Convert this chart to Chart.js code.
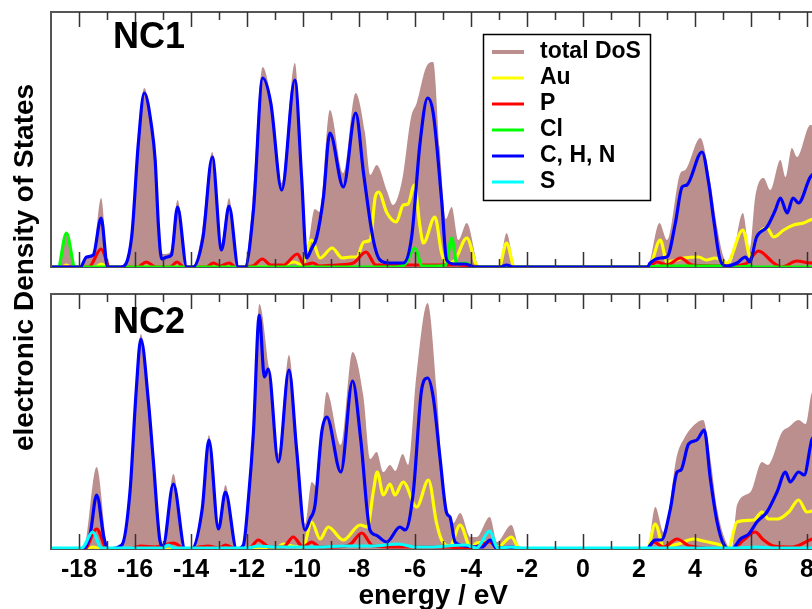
<!DOCTYPE html>
<html>
<head>
<meta charset="utf-8">
<script src="https://cdn.jsdelivr.net/npm/chart.js@4"></script>
<style>
html, body { margin: 0; padding: 0; background: #fff; overflow: hidden; width: 812px; height: 609px; }
canvas { position: absolute; left: 0; top: 0; }
</style>
</head>
<body>
<canvas id="nc1" width="820" height="609"></canvas>
<canvas id="nc2" width="820" height="609"></canvas>
<script>
// energy axis
const xMin = -19, xMax = 8.3;
const tickVals = [-18, -16, -14, -12, -10, -8, -6, -4, -2, 0, 2, 4, 6, 8];
const minorTickVals = [-17, -15, -13, -11, -9, -7, -5, -3, -1, 1, 3, 5, 7];

const seriesNames = ['total DoS', 'Au', 'P', 'Cl', 'C, H, N', 'S'];
const seriesColors = ['#bc8f8f', '#ffff00', '#ff0000', '#00ff00', '#0000ff', '#00ffff'];

// ---- NC1 (energy, DoS in arbitrary units) ----
const nc1Total = [[-19,0],[-18.72,0],[-18.45,34],[-18.14,0],[-17.92,0],[-17.72,10],[-17.5,13],[-17.21,69],[-16.95,0],[-16.52,0],[-16.12,34],[-15.88,130],[-15.67,179],[-15.4,141],[-15.27,110],[-15.12,22],[-14.96,13],[-14.74,15],[-14.48,67],[-14.15,0],[-13.95,0],[-13.6,36],[-13.24,115],[-12.92,24],[-12.64,69],[-12.32,0],[-12.1,0],[-11.8,65],[-11.44,200],[-11.15,169],[-10.76,84],[-10.29,204],[-10.05,98],[-9.88,16],[-9.58,58],[-9.4,55],[-9.04,157],[-8.56,94],[-8.12,174],[-7.79,135],[-7.6,92],[-7.37,102],[-7.0,76],[-6.79,62],[-6.46,87],[-6.14,150],[-5.94,164],[-5.6,200],[-5.35,205],[-5.12,120],[-4.9,48],[-4.69,60],[-4.45,27],[-4.15,44],[-3.7,0],[-3.0,0],[-2.73,34],[-2.42,0],[2.3,0],[2.73,44],[3.0,27],[3.48,94],[3.65,97],[4.19,129],[4.55,84],[4.79,40],[5.02,10],[5.26,4],[5.71,54],[5.95,17],[6.15,70],[6.45,89],[6.69,77],[7.05,107],[7.23,90],[7.46,119],[7.64,110],[8.12,142],[8.5,140]];
const nc1Au = [[-19,0],[-18.6,0],[-18.45,2],[-18.3,0],[-17.4,0],[-17.2,3],[-17.0,0],[-10.9,0],[-10.6,3],[-10.3,5],[-10.05,2],[-9.69,27],[-9.39,9],[-8.96,19],[-8.6,9],[-8.3,10],[-8.08,10],[-7.83,25],[-7.6,27],[-7.42,70],[-7.3,75],[-7.0,54],[-6.67,45],[-6.42,62],[-6.25,63],[-6.02,82],[-5.82,40],[-5.7,24],[-5.29,50],[-5.05,14],[-4.87,4],[-4.6,6],[-4.15,29],[-3.75,0],[-3.0,0],[-2.73,24],[-2.45,0],[2.35,0],[2.76,27],[3.0,5],[3.6,9],[4.13,10],[4.4,7],[4.73,9],[5.14,4],[5.71,37],[5.98,10],[6.2,30],[6.57,39],[6.81,30],[7.17,37],[7.52,42],[7.88,44],[8.12,47],[8.5,50]];
const nc1P = [[-19,0],[-17.65,0],[-17.21,18],[-16.9,0],[-15.9,0],[-15.6,5],[-15.25,0],[-14.75,0],[-14.5,5],[-14.25,0],[-13.45,0],[-13.2,4],[-12.95,1],[-12.64,4],[-12.4,0],[-11.8,1],[-11.45,8],[-11.15,2],[-10.7,2],[-10.2,13],[-9.95,2],[-9.65,4],[-9.4,1],[-8.8,2],[-8.2,4],[-7.75,15],[-7.4,2],[-6.5,2],[-5.5,2],[-4.5,2],[-4.0,1],[-3.6,0],[2.3,0],[2.64,5],[3.0,2],[3.48,9],[3.9,2],[5.2,1],[5.8,3],[6.27,16],[6.81,4],[7.1,0],[7.64,6],[8.12,4],[8.5,5]];
const nc1Cl = [[-19,0],[-18.75,0],[-18.45,34],[-18.14,0],[-6.7,0],[-6.35,3],[-6.0,19],[-5.75,1],[-5.2,1],[-4.9,2],[-4.69,29],[-4.5,3],[-4.2,4],[-3.9,0],[2.3,0],[2.8,1],[5.0,1],[5.5,0],[5.95,1],[6.15,0],[8.5,0]];
const nc1CHN = [[-19,0],[-17.95,0],[-17.73,10],[-17.49,12],[-17.21,49],[-16.98,0],[-16.5,0],[-16.12,30],[-15.88,124],[-15.67,174],[-15.4,139],[-15.28,107],[-15.16,40],[-15.05,8],[-14.85,10],[-14.7,12],[-14.48,60],[-14.15,0],[-13.93,0],[-13.57,30],[-13.24,110],[-12.91,17],[-12.64,61],[-12.31,0],[-12.07,0],[-11.77,57],[-11.44,189],[-11.15,164],[-10.76,77],[-10.29,187],[-10.05,90],[-9.87,9],[-9.7,18],[-9.51,30],[-9.27,70],[-9.04,134],[-8.56,80],[-8.12,154],[-7.83,92],[-7.49,27],[-7.25,7],[-6.9,4],[-6.42,4],[-6.12,30],[-5.82,124],[-5.55,169],[-5.35,154],[-5.05,67],[-4.87,7],[-4.6,3],[-4.2,3],[-3.88,0],[-2.95,0],[-2.73,2],[-2.5,0],[2.3,0],[2.4,4],[2.76,9],[3.0,10],[3.3,44],[3.54,80],[3.71,82],[4.25,115],[4.49,84],[4.67,47],[4.9,7],[5.14,1],[5.5,4],[5.8,10],[5.95,5],[6.2,30],[6.57,40],[6.87,57],[7.05,69],[7.29,54],[7.5,69],[7.7,64],[8.12,90],[8.5,97]];

// ---- NC2 ----
const nc2Total = [[-19,0],[-17.85,0],[-17.37,82],[-16.95,0],[-16.5,0],[-16.18,62],[-15.96,165],[-15.79,215],[-15.52,150],[-15.35,95],[-15.1,10],[-15.0,3],[-14.63,75],[-14.21,0],[-13.98,0],[-13.6,45],[-13.36,114],[-13.02,25],[-12.77,64],[-12.37,0],[-12.15,0],[-11.95,60],[-11.77,125],[-11.56,245],[-11.24,185],[-10.88,95],[-10.5,194],[-10.23,110],[-9.93,25],[-9.69,67],[-9.5,62],[-9.15,157],[-8.65,104],[-8.23,197],[-7.85,154],[-7.6,90],[-7.37,97],[-7.13,77],[-6.89,84],[-6.7,78],[-6.44,95],[-6.24,84],[-5.95,174],[-5.55,246],[-5.23,159],[-4.99,59],[-4.87,39],[-4.63,26],[-4.39,36],[-4.02,12],[-3.8,12],[-3.33,32],[-3.07,7],[-2.56,24],[-2.24,0],[2.3,0],[2.58,42],[2.88,17],[3.36,94],[3.6,110],[3.9,122],[4.29,129],[4.55,90],[4.79,40],[5.14,5],[5.32,1],[5.5,44],[5.98,57],[6.39,87],[6.6,84],[7.11,117],[7.35,122],[7.7,129],[7.95,125],[8.18,157],[8.5,162]];
const nc2Au = [[-19,0],[-17.7,0],[-17.5,2],[-17.2,0],[-11,0],[-10.7,5],[-10.4,3],[-10.0,2],[-9.69,27],[-9.39,10],[-9.1,22],[-8.56,9],[-7.96,24],[-7.7,22],[-7.49,57],[-7.35,77],[-7.13,54],[-6.89,65],[-6.72,54],[-6.42,67],[-5.94,42],[-5.52,69],[-5.23,26],[-5.05,9],[-4.75,3],[-4.39,24],[-4.0,1],[-3.8,6],[-3.33,7],[-3.05,2],[-2.56,12],[-2.25,0],[2.3,0],[2.58,25],[2.88,2],[3.4,5],[3.95,10],[4.3,8],[4.79,5],[5.2,2],[5.5,27],[6.1,29],[6.39,37],[6.63,30],[6.95,30],[7.35,37],[7.7,49],[8.0,37],[8.18,38],[8.5,42]];
const nc2P = [[-19,0],[-17.8,0],[-17.37,20],[-17.0,0],[-16.2,0],[-15.8,3],[-15.3,2],[-14.63,6],[-14.2,0],[-13.4,3],[-13.0,1],[-12.77,4],[-12.4,0],[-11.9,1],[-11.6,9],[-11.2,2],[-10.7,2],[-10.35,12],[-10.0,2],[-9.69,7],[-9.4,2],[-8.8,2],[-8.3,5],[-7.9,16],[-7.5,3],[-6.6,2],[-6.0,2],[-5.0,2],[-4.0,1],[-3.33,7],[-3.0,0],[2.3,0],[2.52,7],[2.88,2],[3.36,10],[3.8,3],[5.32,0],[5.74,9],[6.15,17],[6.45,9],[6.81,3],[7.5,2],[8.18,10],[8.5,12]];
const nc2CHN = [[-19,0],[-17.85,0],[-17.6,15],[-17.37,54],[-17.1,10],[-16.95,0],[-16.47,4],[-16.18,57],[-15.96,157],[-15.79,210],[-15.52,147],[-15.35,90],[-15.1,7],[-15.0,3],[-14.63,65],[-14.21,0],[-13.98,0],[-13.6,40],[-13.36,109],[-13.02,20],[-12.77,57],[-12.37,0],[-12.13,4],[-11.95,50],[-11.77,117],[-11.56,234],[-11.38,172],[-11.24,180],[-10.88,87],[-10.5,179],[-10.23,100],[-9.93,19],[-9.75,30],[-9.57,44],[-9.33,117],[-9.15,132],[-8.65,77],[-8.23,168],[-7.94,110],[-7.61,19],[-7.4,14],[-7.01,7],[-6.54,22],[-6.35,19],[-6.06,57],[-5.76,160],[-5.55,171],[-5.35,152],[-5.11,92],[-4.87,36],[-4.75,32],[-4.57,7],[-4.2,3],[-3.6,2],[-3.32,9],[-3.1,1],[-2.56,2],[-2.3,0],[2.3,0],[2.4,4],[2.58,9],[2.8,9],[3.12,40],[3.36,77],[3.5,79],[3.77,105],[4.07,109],[4.33,119],[4.55,70],[4.79,27],[5.02,5],[5.32,0],[5.62,10],[5.92,15],[6.21,27],[6.57,37],[6.93,57],[7.23,77],[7.4,67],[7.7,77],[7.9,74],[8.18,110],[8.5,118]];
const nc2S = [[-19,1],[-17.9,1],[-17.51,17],[-17.2,1],[-15.0,1],[-14.81,4],[-14.6,1],[-12.0,1],[-11.6,3],[-11.0,2],[-9.5,2],[-8.5,3],[-7.5,3],[-6.6,5],[-6.0,2],[-5.5,2],[-4.2,4],[-3.8,1],[-3.33,18],[-3.05,1],[-2.56,2],[-2.2,1],[5.5,1],[6.2,2],[6.8,1],[8.5,1]];

const FONT = '"Liberation Sans", Arial, Helvetica, sans-serif';

function makeSet(idx, pts, order) {
  const isTotal = idx === 0;
  return {
    label: seriesNames[idx],
    data: pts.map(p => ({ x: p[0], y: p[1] })),
    borderColor: seriesColors[idx],
    backgroundColor: seriesColors[idx],
    borderWidth: isTotal ? 0 : 3.2,
    fill: isTotal ? 'origin' : false,
    pointRadius: 0,
    cubicInterpolationMode: 'monotone',
    order: order
  };
}

const framePlugin = {
  id: 'frame',
  beforeDatasetsDraw(chart) {
    const { ctx, chartArea: a } = chart;
    ctx.save();
    ctx.strokeStyle = '#555';
    ctx.lineWidth = 2;
    ctx.strokeRect(a.left, a.top, a.right - a.left, a.bottom - a.top);
    ctx.restore();
  },
  afterDatasetsDraw(chart, args, opts) {
    const { ctx, chartArea: a, scales: { x } } = chart;
    ctx.save();
    ctx.strokeStyle = '#333';
    ctx.lineWidth = 1.5;
    const tick = (v, len) => {
      const px = Math.round(x.getPixelForValue(v)) + 0.5;
      ctx.beginPath();
      ctx.moveTo(px, a.top); ctx.lineTo(px, a.top + len);
      ctx.moveTo(px, a.bottom); ctx.lineTo(px, a.bottom - len);
      ctx.stroke();
    };
    tickVals.forEach(v => tick(v, 15));
    minorTickVals.forEach(v => tick(v, 8));
    // left frame line drawn on top of the fill
    ctx.strokeStyle = '#555';
    ctx.lineWidth = 2;
    ctx.beginPath();
    ctx.moveTo(a.left, a.top); ctx.lineTo(a.left, a.bottom);
    ctx.stroke();

    ctx.fillStyle = '#000';
    ctx.font = 'bold 36px ' + FONT;
    ctx.textAlign = 'left';
    ctx.textBaseline = 'alphabetic';
    ctx.fillText(opts.label, 113, opts.labelY);

    if (opts.legend) {
      ctx.lineWidth = 1.5;
      ctx.strokeStyle = '#000';
      ctx.strokeRect(483.5, 34.5, 167, 166);
      ctx.font = 'bold 23px ' + FONT;
      ctx.textBaseline = 'middle';
      seriesNames.forEach((name, i) => {
        const y = 52 + i * 26;
        ctx.strokeStyle = seriesColors[i];
        ctx.lineWidth = i === 0 ? 4 : 3;
        ctx.beginPath();
        ctx.moveTo(492, y); ctx.lineTo(524, y);
        ctx.stroke();
        ctx.fillText(name, 540, y);
      });
    }

    if (opts.yTitle) {
      ctx.save();
      ctx.translate(33, 267.5);
      ctx.rotate(-Math.PI / 2);
      ctx.font = 'bold 28px ' + FONT;
      ctx.textAlign = 'center';
      ctx.textBaseline = 'alphabetic';
      ctx.fillText('electronic Density of States', 0, 0);
      ctx.restore();
    }
    ctx.restore();
  }
};

const plotRight = 51 + (xMax - xMin) * 28;

function panel(id, datasets, padTop, padBottom, showAxis, opts) {
  return new Chart(document.getElementById(id), {
    type: 'line',
    data: { datasets },
    options: {
      responsive: false,
      devicePixelRatio: 1,
      animation: false,
      events: [],
      layout: { padding: { left: 51, right: 820 - plotRight, top: padTop, bottom: padBottom } },
      plugins: { legend: { display: false }, tooltip: { enabled: false }, frame: opts },
      scales: {
        x: {
          type: 'linear', min: xMin, max: xMax,
          display: showAxis,
          afterBuildTicks: s => { s.ticks = tickVals.map(v => ({ value: v })); },
          afterFit: s => { if (showAxis) s.height = 60; },
          grid: { display: false, drawTicks: false },
          border: { display: false },
          ticks: { color: '#000', padding: 6, font: { family: FONT, size: 25, weight: 'bold' } },
          title: { display: true, text: 'energy / eV', color: '#000', padding: { top: 0, bottom: -4 },
                   font: { family: FONT, size: 28, weight: 'bold' } }
        },
        y: { min: 0, max: 255, display: false }
      }
    },
    plugins: [framePlugin]
  });
}

panel('nc1', [
  makeSet(0, nc1Total, 10),
  makeSet(1, nc1Au, 5),
  makeSet(2, nc1P, 4),
  makeSet(3, nc1Cl, 3),
  makeSet(4, nc1CHN, 2)
], 12, 609 - 267, false, { label: 'NC1', labelY: 48, legend: true, yTitle: true });

panel('nc2', [
  makeSet(0, nc2Total, 10),
  makeSet(1, nc2Au, 5),
  makeSet(2, nc2P, 4),
  makeSet(4, nc2CHN, 2),
  makeSet(5, nc2S, 1)
], 294, 0, true, { label: 'NC2', labelY: 333, legend: false, yTitle: false });
</script>
</body>
</html>
